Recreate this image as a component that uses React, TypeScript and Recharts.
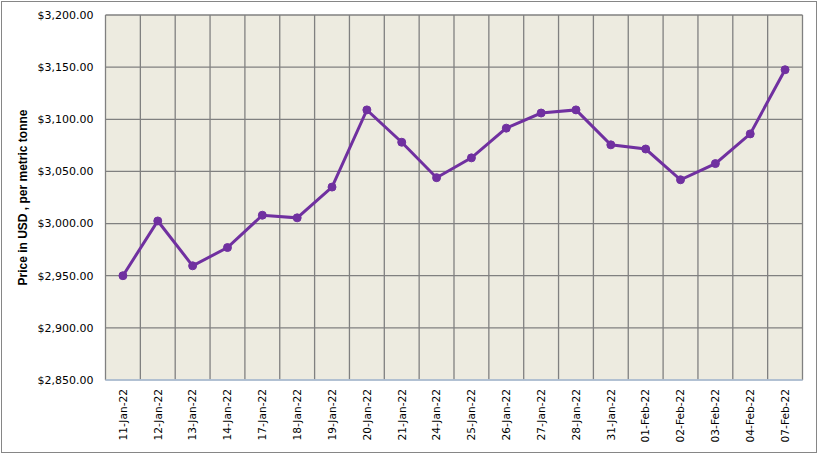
import React from 'react';
import { LineChart, Line, XAxis, YAxis, CartesianGrid } from 'recharts';

const dates = [
  '11-Jan-22', '12-Jan-22', '13-Jan-22', '14-Jan-22', '17-Jan-22',
  '18-Jan-22', '19-Jan-22', '20-Jan-22', '21-Jan-22', '24-Jan-22',
  '25-Jan-22', '26-Jan-22', '27-Jan-22', '28-Jan-22', '31-Jan-22',
  '01-Feb-22', '02-Feb-22', '03-Feb-22', '04-Feb-22', '07-Feb-22',
];
const prices = [
  2950, 3002.5, 2959.5, 2977, 3008,
  3005.5, 3035, 3109, 3078, 3044,
  3063, 3091.5, 3106, 3109, 3075.5,
  3071.5, 3042, 3057.5, 3086, 3147.5,
];
const yTicks = [2850, 2900, 2950, 3000, 3050, 3100, 3150, 3200];
const yTitle = 'Price in USD , per metric tonne';

const data = dates.map((d, i) => ({ date: d, price: prices[i] }));

const fmt = (v: number) =>
  '$' + v.toLocaleString('en-US', { minimumFractionDigits: 2, maximumFractionDigits: 2 });

const XTick = (props: any) => {
  const { x, y, payload } = props;
  const yy = y + 1;
  return (
    <text
      x={x}
      y={yy}
      transform={`rotate(-90, ${x}, ${yy})`}
      textAnchor="end"
      dy="0.36em"
      fontSize={10.6}
      fontFamily="DejaVu Sans"
      fill="#000"
    >
      {payload.value}
    </text>
  );
};

export default function App() {
  const n = dates.length;
  return (
    <div style={{ position: 'absolute', left: 0, top: 0, width: 818, height: 453, background: '#fff' }}>
      <div
        style={{
          position: 'absolute',
          left: 1,
          top: 1,
          width: 816,
          height: 452,
          boxSizing: 'border-box',
          border: '1px solid #868686',
        }}
      />
      <div style={{ position: 'absolute', left: 0, top: 0 }}>
        <LineChart width={818} height={453} data={data} margin={{ top: 15, right: 15.5, bottom: 0, left: 0 }}>
          <CartesianGrid
            stroke="#808080"
            strokeWidth={1.3}
            fill="#EDEBE0"
            fillOpacity={1}
            verticalCoordinatesGenerator={({ offset }: any) =>
              Array.from({ length: n + 1 }, (_, i) => offset.left + (offset.width * i) / n)
            }
          />
          <XAxis
            dataKey="date"
            scale="band"
            height={73}
            interval={0}
            tickLine={false}
            axisLine={{ stroke: '#B9CDE5', strokeWidth: 1.3 }}
            tick={<XTick />}
          />
          <YAxis
            width={105.5}
            domain={[2850, 3200]}
            ticks={yTicks}
            interval={0}
            axisLine={false}
            tickLine={false}
            tickMargin={6}
            tickFormatter={fmt}
            tick={{ fontSize: 11, fontFamily: 'DejaVu Sans', fill: '#000' }}
            label={{
              value: yTitle,
              angle: -90,
              position: 'insideLeft',
              offset: 23,
              style: {
                textAnchor: 'middle',
                fontSize: 12,
                fontWeight: 'bold',
                fontFamily: 'Liberation Sans',
                fill: '#000',
              },
            }}
          />
          <Line
            type="linear"
            dataKey="price"
            stroke="#7030A0"
            strokeWidth={3}
            dot={{ r: 4, fill: '#7030A0', stroke: '#7030A0', strokeWidth: 1 }}
            isAnimationActive={false}
          />
        </LineChart>
      </div>
    </div>
  );
}
